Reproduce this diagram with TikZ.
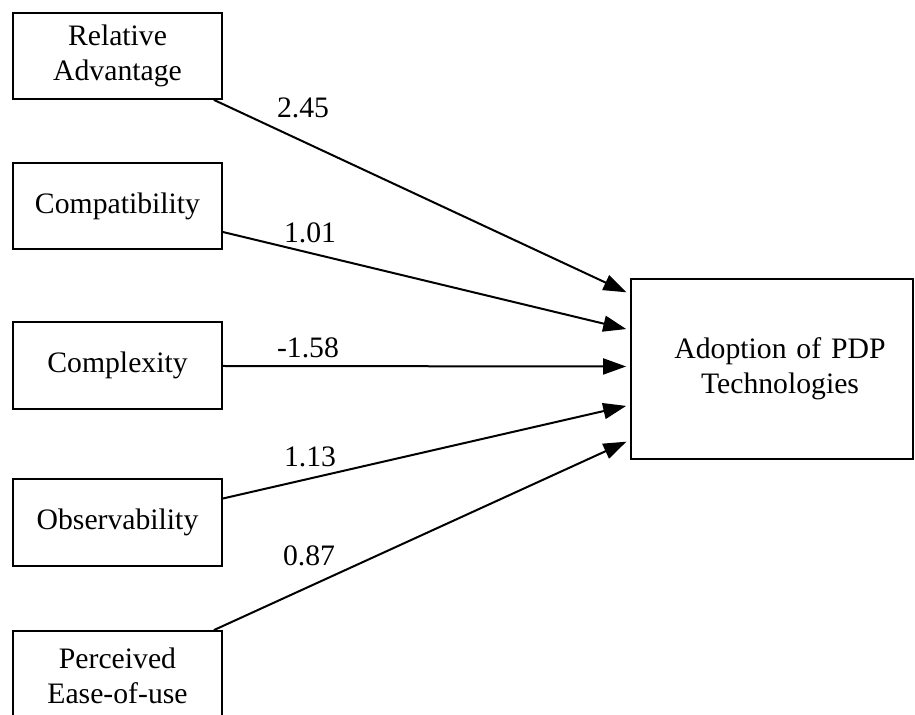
\documentclass[tikz,border=0pt]{standalone}
\usepackage{fontspec}
\setmainfont{Liberation Serif}
\usetikzlibrary{arrows.meta,calc}
\begin{document}
\begin{tikzpicture}[x=0.5pt,y=-0.5pt,
  box/.style={draw=black,line width=0.9pt,rectangle,inner sep=0pt,align=center,
    font=\fontsize{14.85}{17.5}\selectfont},
  leftbox/.style={box,minimum width=104.5pt},
  conn/.style={draw=black,line width=1pt,shorten >=2pt,-{Triangle[length=11.5pt,width=8pt]}},
  coef/.style={inner sep=0pt,font=\fontsize{14.85}{17.5}\selectfont}]
\useasboundingbox (0,0) rectangle (915,715);
\clip (0,0) rectangle (915,715);
\node[leftbox,minimum height=43pt] (ra) at (117.5,56) {Relative\\Advantage};
\node[leftbox,minimum height=43pt] (comp) at (117.5,206) {Compatibility};
\node[leftbox,minimum height=43.5pt] (cx) at (117.5,365.5) {Complexity};
\node[leftbox,minimum height=43.5pt] (obs) at (117.5,522.5) {Observability};
\node[leftbox,minimum height=44.5pt] (peu) at (117.5,675.5) {Perceived\\Ease-of-use};
\node[box,minimum width=141pt,minimum height=90pt,text width=130pt] (adopt) at (772,369) {\hspace*{8pt}Adoption of PDP\\\hspace*{8pt}Technologies};
\coordinate (s1) at ($(ra.south east)+(-9,0)$);
\coordinate (s2) at ($(comp.east)+(0,26)$);
\coordinate (s3) at ($(cx.east)+(0,0.5)$);
\coordinate (s4) at ($(obs.east)+(0,-24)$);
\coordinate (s5) at ($(peu.north east)+(-9,0)$);
\coordinate (e1) at ($(adopt.west)+(0,-75)$);
\coordinate (e2) at ($(adopt.west)+(0,-39)$);
\coordinate (e3) at ($(adopt.west)+(0,-2.5)$);
\coordinate (e4) at ($(adopt.west)+(0,36)$);
\coordinate (e5) at ($(adopt.west)+(0,71)$);
\draw[conn] (s1) -- (e1);
\draw[conn] (s2) -- (e2);
\draw[conn] (s3) -- (e3);
\draw[conn] (s4) -- (e4);
\draw[conn] (s5) -- (e5);
\node[coef] (l1) at (303,108) {2.45};
\node[coef] (l2) at (310,233) {1.01};
\node[coef] (l3) at (308,348) {-1.58};
\node[coef] (l4) at (310,457) {1.13};
\node[coef] (l5) at (309,556) {0.87};
\end{tikzpicture}
\end{document}
